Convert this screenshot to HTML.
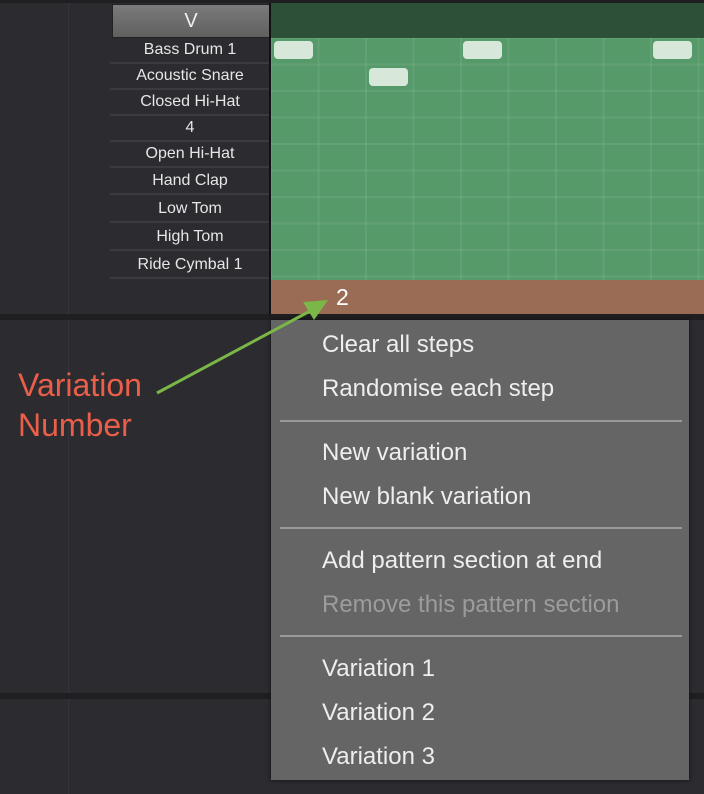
<!DOCTYPE html>
<html><head><style>
body{margin:0;width:704px;height:794px;background:#2b2b30;position:relative;overflow:hidden;font-family:"Liberation Sans",sans-serif}
.a{position:absolute}
.lbl{position:absolute;left:110px;width:160px;text-align:center;color:#e6e6e6;font-size:16px;border-bottom:2px solid #3a3a3f;height:24px;line-height:24px}
.mi{position:absolute;left:322px;color:#eeeeee;font-size:24px;line-height:30px}
.sep{position:absolute;left:280px;width:402px;height:2px;background:#9a9a9a}
.note{position:absolute;width:39px;height:18px;background:#d7e8da;border-radius:4px}
</style></head><body>
<div class="a" style="left:68px;top:0;width:1px;height:794px;background:#34343a"></div>
<div class="a" style="left:0;top:0;width:704px;height:3px;background:#1f1f22"></div>
<div class="a" style="left:112px;top:4px;width:156px;height:32px;background:linear-gradient(#7a7a7a,#606060);border:1px solid #222;color:#eee;text-align:center;font-size:20px;line-height:32px">V</div>
<div class="lbl" style="top:38px">Bass Drum 1</div>
<div class="lbl" style="top:64px">Acoustic Snare</div>
<div class="lbl" style="top:90px">Closed Hi-Hat</div>
<div class="lbl" style="top:116px">4</div>
<div class="lbl" style="top:142px">Open Hi-Hat</div>
<div class="lbl" style="top:169px">Hand Clap</div>
<div class="lbl" style="top:197px">Low Tom</div>
<div class="lbl" style="top:225px">High Tom</div>
<div class="lbl" style="top:253px">Ride Cymbal 1</div>
<div class="a" style="left:269px;top:3px;width:2px;height:315px;background:#111"></div>
<div class="a" style="left:271px;top:3px;width:433px;height:35px;background:#2d5039"></div>
<div class="a" style="left:271px;top:38px;width:433px;height:242px;background:#579a6a;
background-image:linear-gradient(90deg,rgba(255,255,255,.07) 2px,transparent 2px),linear-gradient(rgba(255,255,255,.07) 2px,transparent 2px);background-size:47.5px 100%,100% 26.5px;background-position:-1px 0,0 -1px"></div>
<div class="note" style="left:274px;top:41px"></div>
<div class="note" style="left:369px;top:68px"></div>
<div class="note" style="left:463px;top:41px"></div>
<div class="note" style="left:653px;top:41px"></div>
<div class="a" style="left:271px;top:280px;width:433px;height:34px;background:#9a6b55"></div>
<div class="a" style="left:336px;top:284px;color:#fff;font-size:23px">2</div>
<div class="a" style="left:0;top:314px;width:704px;height:6px;background:#1f1f22"></div>
<div class="a" style="left:0;top:693px;width:704px;height:6px;background:#1f1f22"></div>
<div class="a" style="left:271px;top:320px;width:418px;height:460px;background:#656565;box-shadow:0 0 4px #111"></div>
<div class="mi" style="top:330px">Clear all steps</div>
<div class="mi" style="top:374px">Randomise each step</div>
<div class="sep" style="top:420px"></div>
<div class="mi" style="top:438px">New variation</div>
<div class="mi" style="top:482px">New blank variation</div>
<div class="sep" style="top:527px"></div>
<div class="mi" style="top:546px">Add pattern section at end</div>
<div class="mi" style="top:590px;color:#9c9c9c">Remove this pattern section</div>
<div class="sep" style="top:635px"></div>
<div class="mi" style="top:654px">Variation 1</div>
<div class="mi" style="top:698px">Variation 2</div>
<div class="mi" style="top:742px">Variation 3</div>
<div class="a" style="left:18px;top:365px;color:#ea5f4a;font-size:32px;line-height:40px">Variation<br>Number</div>
<svg class="a" style="left:0;top:0" width="704" height="794">
<line x1="157" y1="393" x2="312" y2="310" stroke="#7ab648" stroke-width="3"/>
<polygon points="328,300 303,302 314,320" fill="#7ab648"/>
</svg>
</body></html>
